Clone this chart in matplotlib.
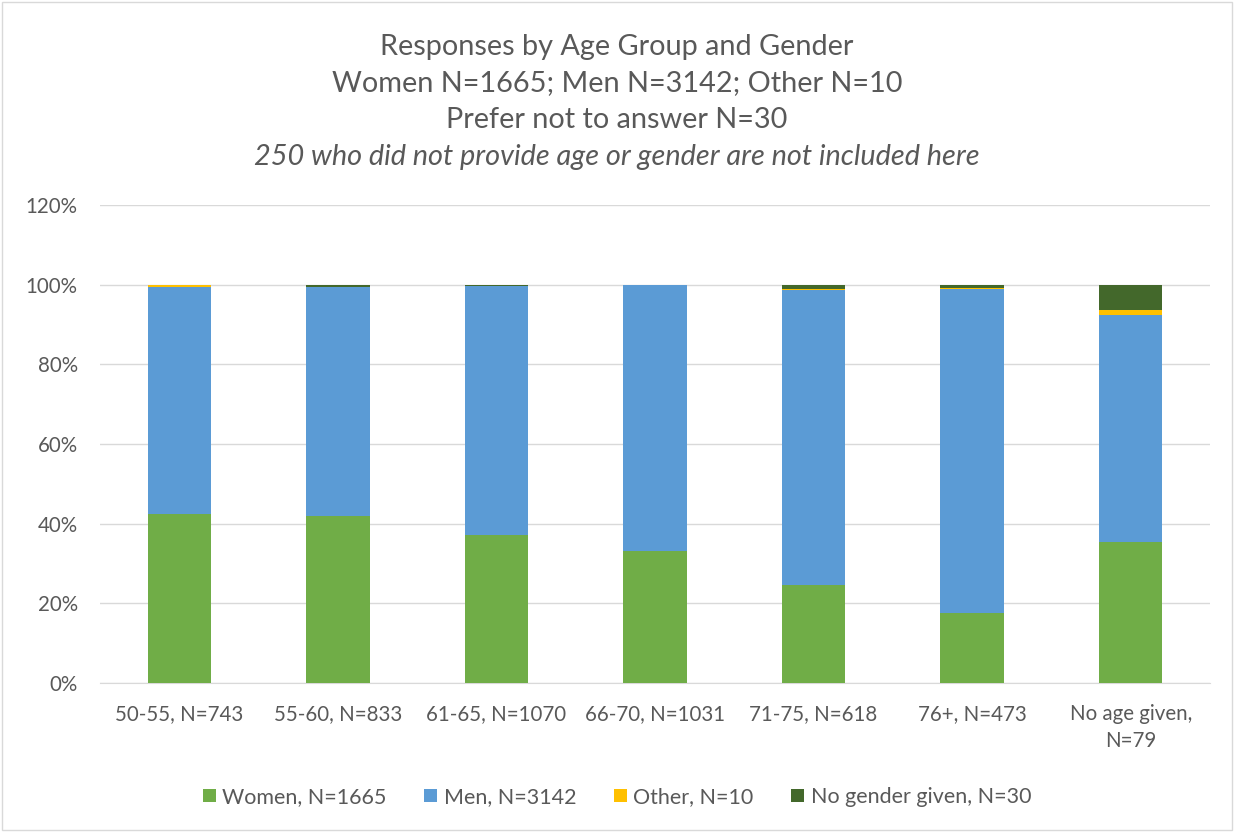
import matplotlib
matplotlib.use("Agg")
import matplotlib.pyplot as plt
import numpy as np
from matplotlib.patches import Rectangle

categories = ["50-55, N=743", "55-60, N=833", "61-65, N=1070", "66-70, N=1031",
              "71-75, N=618", "76+, N=473", "No age given,\nN=79"]
women = [42.4, 42.0, 37.2, 33.2, 24.6, 17.6, 35.4]
men = [56.9, 57.3, 62.5, 66.6, 74.1, 81.4, 57.0]
other = [0.7, 0.2, 0.0, 0.0, 0.3, 0.2, 1.3]
no_gender = [0.0, 0.5, 0.3, 0.2, 1.0, 0.8, 6.3]
series_names = ["Women, N=1665", "Men, N=3142", "Other, N=10", "No gender given, N=30"]
colors = ["#70AD47", "#5B9BD5", "#FFC000", "#43682B"]
y_ticks = [0, 20, 40, 60, 80, 100, 120]

plt.rcParams['font.family'] = ['Lato', 'DejaVu Sans']
txt = "#595959"

fig = plt.figure(figsize=(12.34, 8.32), dpi=100)
fig.patches.append(Rectangle((0.002, 0.002), 0.996, 0.996, transform=fig.transFigure,
                             fill=False, edgecolor="#D9D9D9", linewidth=1))
ax = fig.add_axes([100/1234, 1 - 683/832, 1110/1234, (683-205)/832])

x = np.arange(len(categories))
bottom = np.zeros(len(categories))
for vals, c, name in zip([women, men, other, no_gender], colors, series_names):
    ax.bar(x, vals, width=0.4, bottom=bottom, color=c, label=name, zorder=3)
    bottom += np.array(vals)

ax.set_xlim(-0.5, len(categories) - 0.5)
ax.set_ylim(0, 120)
ax.set_yticks(y_ticks)
ax.set_yticklabels([f"{t}%" for t in y_ticks])
ax.set_xticks(x)
ax.set_xticklabels(categories, linespacing=1.45)
ax.yaxis.grid(True, color="#D9D9D9", linewidth=1, zorder=0)
for s in ["top", "right", "left"]:
    ax.spines[s].set_visible(False)
ax.spines["bottom"].set_color("#D9D9D9")
ax.tick_params(axis="both", length=0, colors=txt, labelsize=14.8)
ax.tick_params(axis="y", pad=16)
ax.tick_params(axis="x", pad=15)

title_lines = [("Responses by Age Group and Gender", "normal", 47),
               ("Women N=1665; Men N=3142; Other N=10", "normal", 83),
               ("Prefer not to answer N=30", "normal", 120),
               ("250 who did not provide age or gender are not included here", "italic", 157)]
for t, style, ypix in title_lines:
    fig.text(0.5, 1 - ypix/832, t, ha="center", va="center", fontsize=20.8,
             color=txt, style=style)

leg = fig.legend(loc="center", bbox_to_anchor=(0.5, 1 - 797/832), ncol=4, frameon=False,
                 fontsize=15.5, handlelength=0.6, handleheight=0.6, handletextpad=0.3,
                 columnspacing=1.75, labelcolor=txt)

fig.savefig("out.png", dpi=100)
